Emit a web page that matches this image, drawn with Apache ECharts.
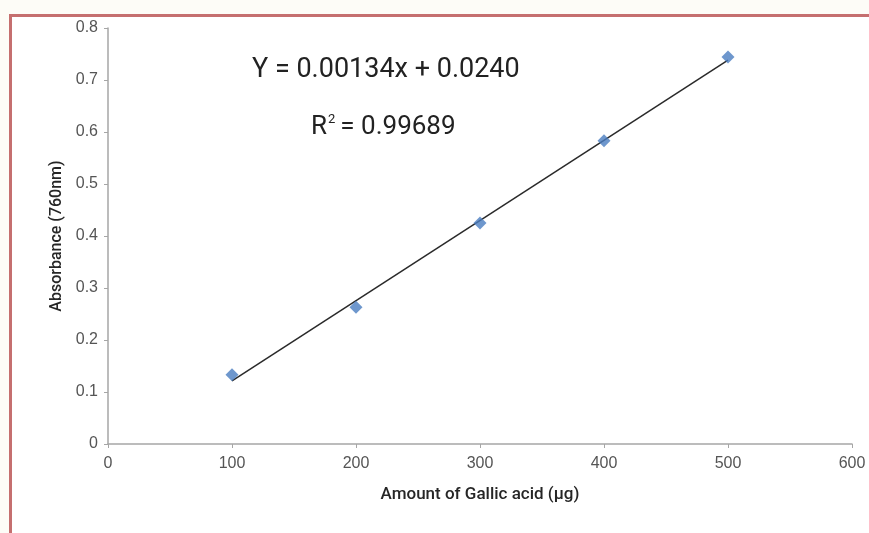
<!DOCTYPE html>
<html>
<head>
<meta charset="utf-8">
<script src="https://cdn.jsdelivr.net/npm/echarts@6/dist/echarts.min.js"></script>
<style>
  html, body { margin: 0; padding: 0; background: #fdfcf7; }
  #frame {
    position: absolute; left: 9px; top: 14px; width: 900px; height: 600px;
    border-left: 3px solid #c56f6f; border-top: 3px solid #c56f6f;
    background: #ffffff;
  }
  #chart { position: absolute; left: 0; top: 0; width: 869px; height: 533px; }
</style>
</head>
<body>
<div id="frame"></div>
<div id="chart"></div>
<script>
// data
const amounts = [100, 200, 300, 400, 500];
const absorbance = [0.133, 0.263, 0.425, 0.583, 0.744];
const xTicks = [0, 100, 200, 300, 400, 500, 600];
const yTicks = [0, 0.1, 0.2, 0.3, 0.4, 0.5, 0.6, 0.7, 0.8];
const equationText = 'Y = 0.00134x + 0.0240';
const r2Value = '0.99689';

// least squares trendline through the points
function fitLine(xs, ys) {
  const n = xs.length;
  const mx = xs.reduce((a, b) => a + b, 0) / n;
  const my = ys.reduce((a, b) => a + b, 0) / n;
  let sxy = 0, sxx = 0;
  for (let i = 0; i < n; i++) {
    sxy += (xs[i] - mx) * (ys[i] - my);
    sxx += (xs[i] - mx) * (xs[i] - mx);
  }
  const slope = sxy / sxx;
  return { slope, intercept: my - slope * mx };
}
const fit = fitLine(amounts, absorbance);
const xFirst = amounts[0], xLast = amounts[amounts.length - 1];
const trend = [
  [xFirst, fit.slope * xFirst + fit.intercept],
  [xLast, fit.slope * xLast + fit.intercept],
];

const chart = echarts.init(document.getElementById('chart'));
const font = 'Roboto, "Liberation Sans", sans-serif';
const axisGray = '#a6a6a6';

chart.setOption({
  backgroundColor: 'transparent',
  animation: false,
  grid: { left: 108, right: 17, top: 28, bottom: 89, containLabel: false },
  xAxis: {
    type: 'value',
    min: xTicks[0],
    max: xTicks[xTicks.length - 1],
    interval: 100,
    name: 'Amount of Gallic acid (µg)',
    nameLocation: 'middle',
    nameGap: 42,
    nameTextStyle: { color: '#262626', fontSize: 17, fontWeight: 500, fontFamily: font },
    axisLine: { lineStyle: { color: axisGray, width: 1.5 } },
    axisTick: { show: true, length: 4, lineStyle: { color: axisGray } },
    axisLabel: { color: '#555', fontSize: 16, fontFamily: '"Liberation Sans", sans-serif', margin: 12 },
    splitLine: { show: false },
  },
  yAxis: {
    type: 'value',
    min: yTicks[0],
    max: yTicks[yTicks.length - 1],
    interval: 0.1,
    name: 'Absorbance (760nm)',
    nameLocation: 'middle',
    nameGap: 43,
    nameTextStyle: { color: '#262626', fontSize: 16, fontWeight: 500, fontFamily: font },
    axisLine: { show: true, lineStyle: { color: axisGray, width: 1.5 } },
    axisTick: { show: true, length: 4, lineStyle: { color: axisGray } },
    axisLabel: {
      color: '#555', fontSize: 16, fontFamily: '"Liberation Sans", sans-serif', margin: 10,
      formatter: v => (v === 0 ? '0' : v.toFixed(1)),
    },
    splitLine: { show: false },
  },
  graphic: [
    {
      type: 'text', left: 252, top: 57,
      style: { text: equationText, fill: '#222', font: '27px ' + font },
    },
    {
      type: 'text', left: 311, top: 113,
      style: {
        text: '{b|R}{s|2}{b|= ' + r2Value + '}',
        rich: {
          b: { fill: '#222', fontSize: 26, fontFamily: font, verticalAlign: 'bottom' },
          s: { fill: '#222', fontSize: 13, fontFamily: font, verticalAlign: 'top', padding: [0, 5, 14, 1] },
        },
      },
    },
  ],
  series: [
    {
      name: 'Trendline',
      type: 'line',
      data: trend,
      symbol: 'none',
      lineStyle: { color: '#2a2a2a', width: 1.5 },
      z: 2,
    },
    {
      name: 'Absorbance',
      type: 'scatter',
      data: amounts.map((x, i) => [x, absorbance[i]]),
      symbol: 'diamond',
      symbolSize: [13, 13],
      itemStyle: { color: '#4a7dc0' },
      z: 3,
    },
  ],
});
</script>
</body>
</html>
